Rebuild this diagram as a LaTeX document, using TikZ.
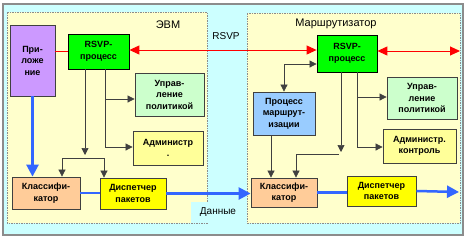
\documentclass[tikz,border=0pt]{standalone}
\usepackage{fontspec}
\setmainfont{Liberation Sans}
\usetikzlibrary{arrows.meta,positioning}
\definecolor{netbg}{HTML}{CCFFFF}
\definecolor{hostbg}{HTML}{FFFFCC}
\definecolor{appviolet}{HTML}{CC99FF}
\definecolor{rsvpgreen}{HTML}{00FF00}
\definecolor{polgreen}{HTML}{CCFFCC}
\definecolor{admyellow}{HTML}{FFFF99}
\definecolor{clspeach}{HTML}{FFCC99}
\definecolor{dspyellow}{HTML}{FFFF00}
\definecolor{routeblue}{HTML}{99CCFF}
\definecolor{datablue}{HTML}{3366FF}
\tikzset{
hostbox/.style={draw=black!45,dash pattern=on 1.5pt off 1pt,line width=0.6pt,fill=hostbg},
unitbox/.style={rectangle,draw=black!75,line width=0.8pt,align=center,inner sep=1pt,
  font=\fontsize{9}{11.5}\selectfont\bfseries},
titletext/.style={font=\fontsize{11}{13}\selectfont},
ctlline/.style={black!75,line width=0.7pt},
ctlarr/.style={ctlline,-{Triangle[length=7pt,width=7pt]}},
ctlarr2/.style={ctlline,{Triangle[length=7pt,width=7pt]}-{Triangle[length=7pt,width=7pt]}},
sigline/.style={red,line width=1pt},
sigarr/.style={sigline,{Triangle[length=10pt,width=9pt]}-{Triangle[length=10pt,width=9pt]}},
dataline/.style={datablue,line width=2.5pt},
dataarr/.style={dataline,-{Triangle[length=12pt,width=12pt]}}
}
\begin{document}
\begin{tikzpicture}[x=1pt,y=-1pt]
\useasboundingbox (0,0) rectangle (468,239);
% frames
\draw[black!45,line width=1.5pt,fill=netbg] (3,4) rectangle (463,235);
\draw[hostbox] (7,12) rectangle (207,223);
\draw[hostbox] (247,13) rectangle (460,223);
\node[fill=netbg,minimum width=54pt,minimum height=21pt,titletext,font=\fontsize{10}{12}\selectfont] (data) at (218,212) {Данные};
\node[titletext] (host) at (168,25) {ЭВМ};
\node[titletext] (router) at (336,24) {Маршрутизатор};
\node[titletext,font=\fontsize{10}{12}\selectfont] (rsvp) at (226,36) {RSVP};
% host side
\node[unitbox,fill=appviolet,minimum width=45pt,minimum height=71pt] (app) at (32.5,60.5) {При-\\ложе\\ние};
\node[unitbox,fill=rsvpgreen,draw=black,minimum width=61pt,minimum height=35pt] (rsvpL) at (98.5,51.5) {RSVP-\\процесс};
\node[unitbox,fill=polgreen,minimum width=69pt,minimum height=43pt] (polL) at (169.5,94.5) {Управ-\\ление\\политикой};
\node[unitbox,fill=admyellow,minimum width=70pt,minimum height=34pt] (admL) at (168,148) {Администр\\.};
\node[unitbox,fill=clspeach,minimum width=68pt,minimum height=32pt] (clsL) at (46,193) {Классифи-\\катор};
\node[unitbox,fill=dspyellow,minimum width=66pt,minimum height=31pt] (dspL) at (133,193.5) {Диспетчер\\пакетов};
% router side
\node[unitbox,fill=rsvpgreen,draw=black,minimum width=60pt,minimum height=37pt] (rsvpR) at (347,53.5) {RSVP-\\процесс};
\node[unitbox,fill=routeblue,minimum width=62pt,minimum height=43pt] (routeR) at (284,113.5) {Процесс\\маршрут-\\изации};
\node[unitbox,fill=polgreen,minimum width=70pt,minimum height=42pt] (polR) at (422,98) {Управ-\\ление\\политикой};
\node[unitbox,fill=admyellow,minimum width=73pt,minimum height=34pt] (admR) at (419.5,146) {Администр.\\контроль};
\node[unitbox,fill=clspeach,minimum width=66pt,minimum height=29pt] (clsR) at (284,192.5) {Классифи-\\катор};
\node[unitbox,fill=dspyellow,minimum width=69pt,minimum height=30pt] (dspR) at (381.5,191) {Диспетчер\\пакетов};
% split points
\coordinate (splitL) at (85,158);
\coordinate (cl1) at (62,158);
\coordinate (cl2) at (104,158);
\coordinate (splitR) at (341,154);
\coordinate (cr1) at (296,154);
\coordinate (netend) at (460,51);
\coordinate (dataend) at (459,192);
% RSVP signalling
\draw[sigline] (app.east |- rsvpL.west) -- (rsvpL.west);
\draw[sigarr] ([yshift=1.5]rsvpL.east) -- ([yshift=1.5]rsvpL.east -| rsvpR.west);
\draw[sigarr] ([yshift=2.5]rsvpR.east) -- (netend);
% control, host
\draw[ctlarr] ([xshift=6.5]rsvpL.south) |- ([yshift=-4.5]polL.west);
\draw[ctlarr] ([xshift=6.5]rsvpL.south) |- ([yshift=1]admL.west);
\draw[ctlarr] (rsvpL.south -| splitL) -- ([yshift=3]splitL);
\draw[ctlline] (cl1) -- (cl2);
\draw[ctlarr] (cl1) -- (cl1 |- clsL.north);
\draw[ctlarr] (cl2) -- (cl2 |- dspL.north);
% control, router
\draw[ctlarr2] ([yshift=-10.5]rsvpR.west) -| (routeR.north);
\draw[ctlarr] ([xshift=10]rsvpR.south) |- ([yshift=1]polR.west);
\draw[ctlarr] ([xshift=10]rsvpR.south) |- ([yshift=-1]admR.west);
\draw[ctlarr] (rsvpR.south -| splitR) -- ([yshift=2]splitR);
\draw[ctlline] (cr1) -- ([xshift=-2]splitR);
\draw[ctlarr] (cr1) -- (cr1 |- clsR.north);
\draw[ctlarr] ([xshift=-13]routeR.south) -- ([xshift=-13]clsR.north);
% data path
\draw[dataarr] (app.south) -- (app.south |- clsL.north);
\draw[dataline] (clsL.east) -- (clsL.east -| dspL.west);
\draw[dataarr] (dspL.east) -- (dspL.east -| clsR.west);
\draw[dataline] (clsR.east) -- (clsR.east -| dspR.west);
\draw[dataarr] (dspR.east) -- (dataend);
\end{tikzpicture}
\end{document}
